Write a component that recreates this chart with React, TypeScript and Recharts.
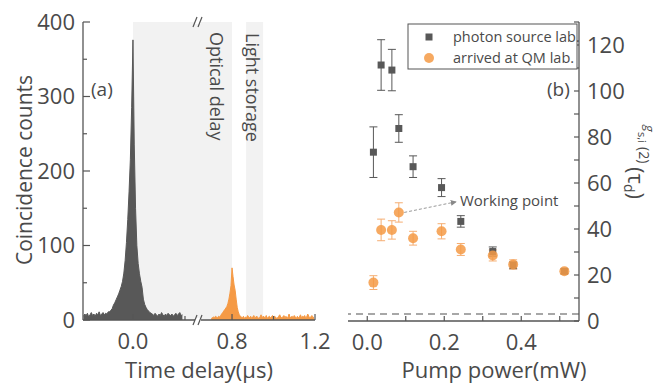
import React from 'react'
import {
  ComposedChart, Area, Scatter, ErrorBar, XAxis, YAxis,
  ReferenceArea, ReferenceLine,
} from 'recharts'

// (a) coincidence histogram, split in two pieces of a broken time axis (µs)
const BIN = 0.005
const promptStart = -0.19
const promptCounts = [
  5, 8, 6, 9, 4, 7, 10, 6, 8, 5, 9, 7, 11, 6, 8, 10, 7, 9, 8, 11,
  11, 13, 15, 20, 23, 27, 31, 35, 40, 45, 52, 63, 80, 104, 135, 172, 215, 285,
  376,
  235, 150, 100, 76, 62, 52, 44, 28, 21, 17, 14, 12, 10, 9,
  8, 6, 9, 7, 5, 8, 6, 10, 7, 5, 8, 6, 9, 7, 6, 8, 5, 7, 9, 6, 8, 10, 6, 7,
]
const delayedStart = 0.7
const delayedCounts = [
  2, 3, 4, 3, 5, 4, 3, 5, 4, 6,
  8, 10, 12, 14, 16, 18, 22, 28, 36, 46,
  70,
  58, 47, 40, 28, 17, 11, 7, 5,
  4, 3, 5, 2, 4, 3, 6, 4, 3, 5,
  2, 4, 6, 3, 4, 5, 3, 2, 4, 7,
  3, 5, 4, 3, 6, 2, 4, 5, 3, 4,
  6, 3, 5, 4, 2, 3, 5, 7, 4, 3,
  4, 6, 3, 5, 2, 4, 8, 3, 4, 5,
  3, 6, 4, 2, 5, 3, 4, 7, 3, 5,
  4, 6, 3, 4, 8, 5, 3, 4, 6, 3,
  4,
]
const promptTicks = [0, 0.2]
const delayedTicks = [0.8, 1.0, 1.2]
const timeLabels = [0, 0.8, 1.2]
const countTicks = [0, 50, 100, 150, 200, 250, 300, 350, 400]
const countLabels = [0, 100, 200, 300, 400]
const opticalDelay = [0, 0.8]
const lightStorage = [0.868, 0.95]

// (b) g2 vs pump power
const pumpPower = [0.016, 0.036, 0.064, 0.082, 0.119, 0.193, 0.243, 0.326, 0.379, 0.512]
const g2Source = [73.4, 111.3, 109.1, 83.7, 67.1, 58.0, 43.3, 30.2, 24.2, 21.6]
const g2SourceErr = [11, 11, 9, 6, 4.7, 3.9, 2.5, 2, 1.5, 1]
const g2Memory = [16.7, 39.6, 39.6, 47.2, 36.0, 39.0, 31.1, 28.5, 24.6, 21.6]
const g2MemoryErr = [3, 4.7, 4, 4.2, 3, 3.3, 2.6, 2.4, 2, 1.2]
const powerTicks = [0, 0.1, 0.2, 0.3, 0.4, 0.5]
const powerLabels = [0, 0.2, 0.4]
const g2Ticks = [0, 10, 20, 30, 40, 50, 60, 70, 80, 90, 100, 110, 120, 130]
const g2Labels = [0, 20, 40, 60, 80, 100, 120]
const classicalBound = 3
const arrowFrom = { x: 0.096, y: 47.2 }
const arrowTo = { x: 0.23, y: 51.8 }

const promptData = promptCounts.map((c, i) => ({ t: promptStart + i * BIN, c }))
const delayedData = delayedCounts.map((c, i) => ({ t: delayedStart + i * BIN, c }))
const sourceData = pumpPower.map((x, i) => ({ x, y: g2Source[i], err: g2SourceErr[i] }))
const memoryData = pumpPower.map((x, i) => ({ x, y: g2Memory[i], err: g2MemoryErr[i] }))

const TXT = '#4a4a4a'
const AX = '#555'
const FONT = "'Open Sans', sans-serif"
const GRAY = '#585858'
const ORANGE = '#f59a45'
const SHADE = '#f2f2f2'

const has = (list: number[], v: number) => list.some(u => Math.abs(u - v) < 1e-6)

const bottomTick = (labels: number[], fmt: (v: number) => string, major = 6, minor = 4) => (p: any) => {
  const on = has(labels, p.payload.value)
  return (
    <g>
      <line x1={p.x} x2={p.x} y1={p.y} y2={p.y - (on ? major : minor)} stroke={AX} strokeWidth={1.2} />
      {on && (
        <text x={p.x} y={p.y + 29} textAnchor="middle" fontSize={22} fill={TXT} fontFamily={FONT}>
          {fmt(p.payload.value)}
        </text>
      )}
    </g>
  )
}

const topTick = (len = 5) => (p: any) => (
  <line x1={p.x} x2={p.x} y1={p.y} y2={p.y + len} stroke={AX} strokeWidth={1.2} />
)

const leftTick = (labels: number[], major = 7, minor = 4) => (p: any) => {
  const on = has(labels, p.payload.value)
  return (
    <g>
      <line x1={p.x} x2={p.x + (on ? major : minor)} y1={p.y} y2={p.y} stroke={AX} strokeWidth={1.2} />
      {on && (
        <text x={p.x - 8} y={p.y} dy="0.36em" textAnchor="end" fontSize={22} fill={TXT} fontFamily={FONT}>
          {p.payload.value}
        </text>
      )}
    </g>
  )
}

const rightTick = (labels: number[], len = 5) => (p: any) => (
  <g>
    <line x1={p.x} x2={p.x - len} y1={p.y} y2={p.y} stroke={AX} strokeWidth={1.2} />
    {has(labels, p.payload.value) && (
      <text x={p.x + 8} y={p.y} dy="0.36em" textAnchor="start" fontSize={22} fill={TXT} fontFamily={FONT}>
        {p.payload.value}
      </text>
    )}
  </g>
)

const fmt1 = (v: number) => v.toFixed(1)

const Square = (p: any) => <rect x={p.cx - 3.5} y={p.cy - 3.5} width={7} height={7} fill={GRAY} />
const Dot = (p: any) => <circle cx={p.cx} cy={p.cy} r={5} fill={ORANGE} fillOpacity={0.85} />

const Arrow = (p: any) => (
  <g>
    <defs>
      <marker id="wpArrow" markerWidth="6" markerHeight="6" refX="5" refY="3" orient="auto">
        <path d="M0,0 L6,3 L0,6 z" fill="#888" />
      </marker>
    </defs>
    <line x1={p.x1} y1={p.y1} x2={p.x2} y2={p.y2} stroke="#999" strokeWidth={1} strokeDasharray="3 2" markerEnd="url(#wpArrow)" />
  </g>
)

const axisCommon = { tickSize: 0, tickMargin: 0, tickLine: false, interval: 0 as const, allowDataOverflow: true }
const axisLine = { stroke: AX, strokeWidth: 1.3 }

export default function App() {
  return (
    <div style={{ position: 'absolute', left: 0, top: 0, width: 660, height: 388, background: '#fff', fontFamily: FONT }}>
      {/* (a) left piece: prompt peak */}
      <div style={{ position: 'absolute', left: 0, top: 0 }}>
        <ComposedChart width={198} height={388} data={promptData} margin={{ top: 22, right: 0, bottom: 38, left: 0 }}>
          <XAxis dataKey="t" type="number" domain={[-0.192, 0.25]} ticks={promptTicks} height={30}
            axisLine={axisLine} tick={bottomTick(timeLabels, fmt1)} {...axisCommon} />
          <XAxis xAxisId="top" orientation="top" type="number" domain={[-0.192, 0.25]} ticks={promptTicks} height={0}
            axisLine={axisLine} tick={topTick()} {...axisCommon} />
          <YAxis type="number" domain={[0, 400]} ticks={countTicks} width={83}
            axisLine={axisLine} tick={leftTick(countLabels)} {...axisCommon} />
          <ReferenceArea x1={opticalDelay[0]} x2={0.25} y1={0} y2={400} fill={SHADE} fillOpacity={1} stroke="none" ifOverflow="hidden" />
          <Area type="linear" dataKey="c" stroke={GRAY} strokeWidth={1} fill={GRAY} fillOpacity={1}
            dot={false} activeDot={false} isAnimationActive={false} />
        </ComposedChart>
      </div>

      {/* (a) right piece: retrieved photons */}
      <div style={{ position: 'absolute', left: 198, top: 0 }}>
        <ComposedChart width={140} height={388} data={delayedData} margin={{ top: 22, right: 23, bottom: 38, left: 0 }}>
          <XAxis dataKey="t" type="number" domain={[0.636, 1.2]} ticks={delayedTicks} height={30}
            axisLine={axisLine} tick={bottomTick(timeLabels, fmt1)} {...axisCommon} />
          <XAxis xAxisId="top" orientation="top" type="number" domain={[0.636, 1.2]} ticks={delayedTicks} height={0}
            axisLine={axisLine} tick={topTick()} {...axisCommon} />
          <YAxis orientation="right" type="number" domain={[0, 400]} ticks={countTicks} width={0}
            axisLine={axisLine} tick={rightTick([])} {...axisCommon} />
          <ReferenceArea x1={0.636} x2={opticalDelay[1]} y1={0} y2={400} fill={SHADE} fillOpacity={1} stroke="none" ifOverflow="hidden" />
          <ReferenceArea x1={lightStorage[0]} x2={lightStorage[1]} y1={0} y2={400} fill={SHADE} fillOpacity={1} stroke="none" ifOverflow="hidden" />
          <Area type="linear" dataKey="c" stroke={ORANGE} strokeWidth={1} fill={ORANGE} fillOpacity={1}
            dot={false} activeDot={false} isAnimationActive={false} />
        </ComposedChart>
      </div>

      {/* (b) g2 vs pump power */}
      <div style={{ position: 'absolute', left: 330, top: 0 }}>
        <ComposedChart width={330} height={388} margin={{ top: 22, right: 0, bottom: 37, left: 18 }}>
          <XAxis dataKey="x" type="number" domain={[-0.05, 0.55]} ticks={powerTicks} height={30}
            axisLine={axisLine} tick={bottomTick(powerLabels, fmt1, 5, 5)} {...axisCommon} />
          <XAxis xAxisId="top" orientation="top" type="number" domain={[-0.05, 0.55]} ticks={powerTicks} height={0}
            axisLine={axisLine} tick={topTick()} {...axisCommon} />
          <YAxis orientation="right" dataKey="y" type="number" domain={[0, 130]} ticks={g2Ticks} width={81}
            axisLine={axisLine} tick={rightTick(g2Labels)} {...axisCommon} />
          <YAxis yAxisId="l" orientation="left" type="number" domain={[0, 130]} ticks={g2Ticks} width={0}
            axisLine={axisLine} tick={leftTick([], 6, 6)} {...axisCommon} />
          <ReferenceLine y={classicalBound} stroke="#8a8a8a" strokeWidth={1.5} strokeDasharray="7 5" />
          <Scatter data={sourceData} dataKey="y" shape={Square} isAnimationActive={false}>
            <ErrorBar dataKey="err" direction="y" width={4} stroke={GRAY} strokeWidth={1} />
          </Scatter>
          <Scatter data={memoryData} dataKey="y" shape={Dot} isAnimationActive={false}>
            <ErrorBar dataKey="err" direction="y" width={4} stroke="#f5ae72" strokeWidth={1} />
          </Scatter>
          <ReferenceLine segment={[arrowFrom, arrowTo]} shape={Arrow} ifOverflow="visible" />
        </ComposedChart>
      </div>

      {/* titles and annotations */}
      <svg width={660} height={388} style={{ position: 'absolute', left: 0, top: 0, pointerEvents: 'none' }} fontFamily={FONT}>
        <text transform="translate(32,170) rotate(-90)" textAnchor="middle" fontSize={21} fill={TXT}>Coincidence counts</text>
        <text x={199} y={378} textAnchor="middle" fontSize={22} fill={TXT}>Time delay(μs)</text>
        <text x={494} y={378} textAnchor="middle" fontSize={22} fill={TXT}>Pump power(mW)</text>
        <text x={91} y={96} fontSize={19} fill={TXT}>(a)</text>
        <text x={547} y={96} fontSize={19} fill={TXT}>(b)</text>
        <text transform="translate(210,32) rotate(90)" fontSize={18} fill={TXT}>Optical delay</text>
        <text transform="translate(246,33) rotate(90)" fontSize={18} fill={TXT}>Light storage</text>

        {/* axis break marks */}
        {[22, 320].map(y => (
          <g key={y}>
            <rect x={195} y={y - 2} width={6} height={4} fill="#fff" />
            <line x1={193} y1={y + 5} x2={197} y2={y - 5} stroke={AX} strokeWidth={1.2} />
            <line x1={198} y1={y + 5} x2={202} y2={y - 5} stroke={AX} strokeWidth={1.2} />
          </g>
        ))}

        {/* legend */}
        <rect x={408} y={24} width={169} height={45} fill="#fff" stroke={AX} strokeWidth={1} />
        <rect x={425.5} y={33.5} width={7} height={7} fill={GRAY} />
        <circle cx={429} cy={58} r={5} fill={ORANGE} fillOpacity={0.85} />
        <text x={453} y={42} fontSize={14.5} fill={TXT}>photon source lab.</text>
        <text x={453} y={63} fontSize={14.5} fill={TXT}>arrived at QM lab.</text>

        <text x={460} y={206} fontSize={15} fill={TXT}>Working point</text>

        {/* g2 axis title */}
        <text transform="translate(628,125) rotate(90)" fill={TXT}>
          <tspan x={0} y={-17} fontSize={13} fontStyle="italic">g</tspan>
          <tspan x={7} y={-10} fontSize={11}>s,i</tspan>
          <tspan x={22} y={-11} fontSize={14}>(2)</tspan>
          <tspan x={42} y={0} fontSize={22}>(τ</tspan>
          <tspan dy={4} fontSize={14}>d</tspan>
          <tspan dy={-4} fontSize={22}>)</tspan>
        </text>
      </svg>
    </div>
  )
}
